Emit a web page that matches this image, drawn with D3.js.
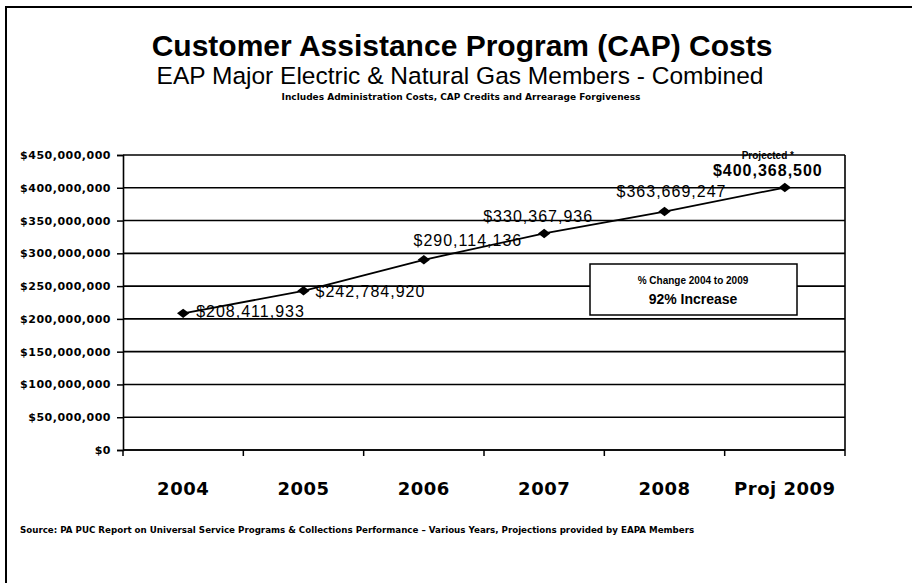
<!DOCTYPE html>
<html>
<head>
<meta charset="utf-8">
<script src="https://cdn.jsdelivr.net/npm/d3@7"></script>
<style>
  body { margin: 0; background: #fff; }
  text { font-family: "Liberation Sans", Arial, sans-serif; fill: #000; }
</style>
</head>
<body>
<div id="chart"></div>
<script>
// Data
const years = ['2004', '2005', '2006', '2007', '2008', 'Proj 2009']
const costs = [208411933, 242784920, 290114136, 330367936, 363669247, 400368500]
const yTicks = [0, 50e6, 100e6, 150e6, 200e6, 250e6, 300e6, 350e6, 400e6, 450e6]
// label offsets relative to the point: [dx, dy, anchor]
const labelPos = [[13, 4, 'start'], [12, 6, 'start'], [44, -14, 'middle'], [-6, -11, 'middle'], [7, -15, 'middle'], [-17, -12, 'middle']]

const W = 912, H = 583
const m = { left: 123, right: 67, top: 155, bottom: 133 }
const w = W - m.left - m.right
const h = H - m.top - m.bottom

const svg = d3.select('#chart').append('svg')
    .attr('width', W).attr('height', H)

// Page frame
svg.append('line').attr('x1', 5).attr('x2', W).attr('y1', 7).attr('y2', 7)
    .attr('stroke', '#000').attr('stroke-width', 2)
svg.append('line').attr('x1', 6).attr('x2', 6).attr('y1', 7).attr('y2', H)
    .attr('stroke', '#000').attr('stroke-width', 2)

// Titles
svg.append('text').attr('x', 462).attr('y', 56).attr('text-anchor', 'middle')
    .style('font-size', '30px').style('font-weight', 'bold')
    .text('Customer Assistance Program (CAP) Costs')
svg.append('text').attr('x', 460).attr('y', 84).attr('text-anchor', 'middle')
    .style('font-size', '24.5px')
    .text('EAP Major Electric & Natural Gas Members - Combined')
svg.append('text').attr('x', 461).attr('y', 100).attr('text-anchor', 'middle')
    .style('font-family', '"DejaVu Sans", sans-serif')
    .style('font-size', '9px').style('font-weight', 'bold')
    .text('Includes  Administration Costs, CAP Credits and Arrearage Forgiveness')

const g = svg.append('g').attr('transform', `translate(${m.left},${m.top})`)

// Scales
const x = d3.scaleBand().domain(years).range([0, w])
const y = d3.scaleLinear().domain([0, 450e6]).range([h, 0])

// Gridlines
g.selectAll('.grid').data(yTicks).enter().append('line')
    .attr('x1', 0).attr('x2', w)
    .attr('y1', d => y(d)).attr('y2', d => y(d))
    .attr('stroke', '#000').attr('stroke-width', 1.6)

// Right border of plot
g.append('line').attr('x1', w).attr('x2', w).attr('y1', 0).attr('y2', h)
    .attr('stroke', '#000').attr('stroke-width', 1.6)

// Y axis
const yAxis = g.append('g')
    .call(d3.axisLeft(y).tickValues(yTicks).tickSize(6).tickPadding(6)
        .tickFormat(d => '$' + d3.format(',')(d)))
yAxis.select('.domain').attr('stroke-width', 1.6)
yAxis.selectAll('.tick line').attr('stroke-width', 1.5)
yAxis.selectAll('text').style('font-size', '11px').style('font-weight', 'bold')
    .style('font-family', '"DejaVu Sans", sans-serif')
    .style('letter-spacing', '0.5px')

// X axis with ticks between categories
const xAxisG = g.append('g').attr('transform', `translate(0,${h})`)
xAxisG.append('line').attr('x1', 0).attr('x2', w).attr('stroke', '#000').attr('stroke-width', 1.6)
xAxisG.selectAll('.xt').data(d3.range(years.length + 1)).enter().append('line')
    .attr('x1', i => i * x.step()).attr('x2', i => i * x.step())
    .attr('y1', 0).attr('y2', 6).attr('stroke', '#000').attr('stroke-width', 1.5)
xAxisG.selectAll('.xl').data(years).enter().append('text')
    .attr('x', d => x(d) + x.bandwidth() / 2).attr('y', 45)
    .attr('text-anchor', 'middle')
    .style('font-family', '"DejaVu Sans", sans-serif')
    .style('font-size', '18px').style('font-weight', 'bold')
    .style('letter-spacing', '0.5px')
    .text(d => d)

// Line + markers
const pts = years.map((yr, i) => ({ yr, v: costs[i], i }))
const cx = d => x(d.yr) + x.bandwidth() / 2

g.append('path').datum(pts)
    .attr('fill', 'none').attr('stroke', '#000').attr('stroke-width', 1.8)
    .attr('d', d3.line().x(cx).y(d => y(d.v)))

// wide diamond marker
const wideDiamond = {
  draw(ctx, size) {
    const a = Math.sqrt(size) / 2
    ctx.moveTo(-a * 1.3, 0)
    ctx.lineTo(0, -a)
    ctx.lineTo(a * 1.3, 0)
    ctx.lineTo(0, a)
    ctx.closePath()
  }
}
g.selectAll('.pt').data(pts).enter().append('path')
    .attr('d', d3.symbol().type(wideDiamond).size(90))
    .attr('transform', d => `translate(${cx(d)},${y(d.v)})`)
    .attr('fill', '#000')

// Data labels
g.selectAll('.lbl').data(pts).enter().append('text')
    .attr('x', d => cx(d) + labelPos[d.i][0])
    .attr('y', d => y(d.v) + labelPos[d.i][1])
    .attr('text-anchor', d => labelPos[d.i][2])
    .style('font-size', '16px')
    .style('font-weight', d => d.i === 5 ? 'bold' : 'normal')
    .style('letter-spacing', '1px')
    .text(d => '$' + d3.format(',')(d.v))

// "Projected" tag
const last = pts[pts.length - 1]
g.append('text').attr('x', cx(last) - 17).attr('y', y(last.v) - 29)
    .attr('text-anchor', 'middle')
    .style('font-size', '10px').style('font-weight', 'bold')
    .text('Projected *')

// Change box
const box = g.append('g').attr('transform', `translate(${590 - m.left},${264 - m.top})`)
box.append('rect').attr('width', 207).attr('height', 51)
    .attr('fill', '#fff').attr('stroke', '#000').attr('stroke-width', 1.5)
box.append('text').attr('x', 103).attr('y', 20).attr('text-anchor', 'middle')
    .style('font-family', '"Liberation Sans Narrow", "Arial Narrow", sans-serif')
    .style('font-size', '10px').style('font-weight', 'bold')
    .text('% Change 2004 to 2009')
box.append('text').attr('x', 103).attr('y', 40).attr('text-anchor', 'middle')
    .style('font-family', '"Liberation Sans Narrow", "Arial Narrow", sans-serif')
    .style('font-size', '14px').style('font-weight', 'bold')
    .text('92% Increase')

// Source
svg.append('text').attr('x', 20).attr('y', 533)
    .style('font-family', '"DejaVu Sans", sans-serif')
    .style('font-size', '8.7px').style('font-weight', 'bold')
    .text('Source: PA PUC Report on Universal Service Programs & Collections Performance \u2013 Various Years, Projections provided by EAPA Members')
</script>
</body>
</html>
